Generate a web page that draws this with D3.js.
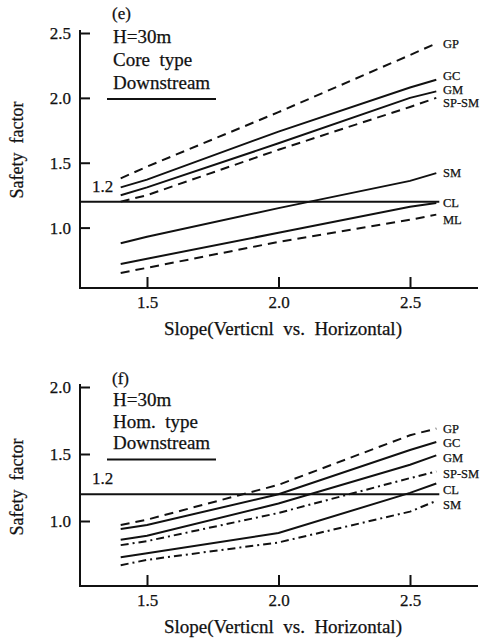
<!DOCTYPE html>
<html>
<head>
<meta charset="utf-8">
<script src="https://cdn.jsdelivr.net/npm/d3@7"></script>
<style>
  body { margin: 0; background: #fff; }
  svg text { font-family: "Liberation Serif", "Times New Roman", serif; fill: #111; stroke: #111; stroke-width: 0.25px; }
</style>
</head>
<body>
<script>
// slopes where the curves were read
var slopes = [1.4, 1.5, 2.0, 2.5, 2.6];

// (e) core type, downstream
var coreGP   = [1.38, 1.47, 1.89, 2.33, 2.42];
var coreGC   = [1.31, 1.37, 1.74, 2.08, 2.14];
var coreGM   = [1.25, 1.31, 1.65, 2.00, 2.05];
var coreSPSM = [1.20, 1.25, 1.60, 1.93, 2.00];
var coreSM   = [0.88, 0.93, 1.15, 1.36, 1.42];
var coreCL   = [0.72, 0.76, 0.96, 1.16, 1.19];
var coreML   = [0.65, 0.69, 0.89, 1.06, 1.10];

// (f) homogeneous type, downstream
var homGP   = [0.97, 1.01, 1.27, 1.64, 1.69];
var homGC   = [0.94, 0.97, 1.20, 1.53, 1.59];
var homGM   = [0.86, 0.89, 1.13, 1.42, 1.49];
var homSPSM = [0.82, 0.85, 1.06, 1.32, 1.37];
var homCL   = [0.73, 0.76, 0.91, 1.21, 1.28];
var homSM   = [0.67, 0.71, 0.84, 1.07, 1.15];

// tick labels
var xTicks  = [1.5, 2.0, 2.5];
var yTicksE = [1.0, 1.5, 2.0, 2.5];
var yTicksF = [1.0, 1.5, 2.0];
var limit   = 1.2;

var xTitle = 'Slope(Verticnl  vs.  Horizontal)';
var yTitle = 'Safety  factor';

// styles per curve
var solid = null, dashed = '9,6', dashDot = '8,4,2,4';

var panels = [
    {
        tag: '(e)', notes: ['H=30m', 'Core  type', 'Downstream'],
        yTicks: yTicksE, top: 30, bottom: 288, y1: 227.6, y2: 33, v2: 2.5,
        noteY: 13, noteGap: 23, titleY: 150,
        series: [
            { name: 'GP',    values: coreGP,   dash: dashed, dy: 0 },
            { name: 'GC',    values: coreGC,   dash: solid,  dy: -4 },
            { name: 'GM',    values: coreGM,   dash: solid,  dy: -2 },
            { name: 'SP-SM', values: coreSPSM, dash: dashed, dy: 5 },
            { name: 'SM',    values: coreSM,   dash: solid,  dy: 0 },
            { name: 'CL',    values: coreCL,   dash: solid,  dy: 0 },
            { name: 'ML',    values: coreML,   dash: dashed, dy: 5 }
        ]
    },
    {
        tag: '(f)', notes: ['H=30m', 'Hom.  type', 'Downstream'],
        yTicks: yTicksF, top: 384, bottom: 586, y1: 521, y2: 387, v2: 2.0,
        noteY: 378, noteGap: 21.5, titleY: 487,
        series: [
            { name: 'GP',    values: homGP,   dash: dashed,  dy: 0 },
            { name: 'GC',    values: homGC,   dash: solid,   dy: 1 },
            { name: 'GM',    values: homGM,   dash: solid,   dy: 2 },
            { name: 'SP-SM', values: homSPSM, dash: dashDot, dy: 2 },
            { name: 'CL',    values: homCL,   dash: solid,   dy: 6 },
            { name: 'SM',    values: homSM,   dash: dashDot, dy: 4 }
        ]
    }
];

var W = 489, H = 640;
var axisX = 80, axisRight = 478;

var svg = d3.select('body').append('svg')
    .attr('width', W)
    .attr('height', H);

// x scale shared by both panels
var xScale = d3.scaleLinear().domain([1.5, 2.5]).range([147, 410]);

panels.forEach(function(p) {
    var g = svg.append('g');
    var yScale = d3.scaleLinear().domain([1.0, p.v2]).range([p.y1, p.y2]);

    // y axis
    var yAxis = d3.axisLeft(yScale)
        .tickValues(p.yTicks)
        .tickFormat(d3.format('.1f'))
        .tickSizeInner(-10)
        .tickSizeOuter(0)
        .tickPadding(9);
    var ya = g.append('g').attr('transform', 'translate(' + axisX + ',0)').call(yAxis);
    ya.select('.domain').remove();
    ya.selectAll('line').attr('stroke', '#111').attr('stroke-width', 2);
    ya.selectAll('text').attr('font-size', 17).style('font-family', '"Liberation Serif", serif');

    // x axis
    var xAxis = d3.axisBottom(xScale)
        .tickValues(xTicks)
        .tickFormat(d3.format('.1f'))
        .tickSizeInner(-11)
        .tickSizeOuter(0)
        .tickPadding(8);
    var xa = g.append('g').attr('transform', 'translate(0,' + p.bottom + ')').call(xAxis);
    xa.select('.domain').remove();
    xa.selectAll('line').attr('stroke', '#111').attr('stroke-width', 2);
    xa.selectAll('text').attr('font-size', 17).style('font-family', '"Liberation Serif", serif');

    // axis lines
    g.append('line')
        .attr('x1', axisX).attr('x2', axisX)
        .attr('y1', p.top).attr('y2', p.bottom + 1)
        .attr('stroke', '#111').attr('stroke-width', 2);
    g.append('line')
        .attr('x1', axisX - 1).attr('x2', axisRight)
        .attr('y1', p.bottom).attr('y2', p.bottom)
        .attr('stroke', '#111').attr('stroke-width', 2);

    // 1.2 limit line
    g.append('line')
        .attr('x1', axisX).attr('x2', xScale(2.6) + 3)
        .attr('y1', yScale(limit)).attr('y2', yScale(limit))
        .attr('stroke', '#111').attr('stroke-width', 2);
    g.append('text')
        .attr('x', 92).attr('y', yScale(limit) - 10)
        .attr('font-size', 17)
        .text(d3.format('.1f')(limit));

    // curves
    var line = d3.line()
        .x(function(d) { return xScale(d[0]); })
        .y(function(d) { return yScale(d[1]); });

    p.series.forEach(function(s) {
        var pts = slopes.map(function(x, i) { return [x, s.values[i]]; });
        g.append('path')
            .attr('d', line(pts))
            .attr('fill', 'none')
            .attr('stroke', '#111')
            .attr('stroke-width', 2)
            .attr('stroke-dasharray', s.dash);
        g.append('text')
            .attr('x', 443)
            .attr('y', yScale(s.values[s.values.length - 1]) + s.dy)
            .attr('dy', '0.35em')
            .attr('font-size', 12.5)
            .text(s.name);
    });

    // notes block
    g.append('text')
        .attr('x', 112).attr('y', p.noteY).attr('dy', '0.35em')
        .attr('font-size', 17)
        .text(p.tag);
    p.notes.forEach(function(t, i) {
        g.append('text')
            .attr('x', 113)
            .attr('y', p.noteY + p.noteGap * (i + 1))
            .attr('dy', '0.35em')
            .attr('font-size', 19)
            .style('white-space', 'pre')
            .text(t);
    });
    var ul = p.noteY + p.noteGap * 3 + 17;
    g.append('line')
        .attr('x1', 107).attr('x2', 216)
        .attr('y1', ul).attr('y2', ul)
        .attr('stroke', '#111').attr('stroke-width', 2);

    // axis titles
    g.append('text')
        .attr('x', 283).attr('y', p.bottom + 40)
        .attr('dy', '0.35em')
        .attr('text-anchor', 'middle')
        .attr('font-size', 19)
        .style('white-space', 'pre')
        .text(xTitle);
    g.append('text')
        .attr('transform', 'translate(17,' + p.titleY + ') rotate(-90)')
        .attr('dy', '0.35em')
        .attr('text-anchor', 'middle')
        .attr('font-size', 18)
        .style('white-space', 'pre')
        .text(yTitle);
});
</script>
</body>
</html>
